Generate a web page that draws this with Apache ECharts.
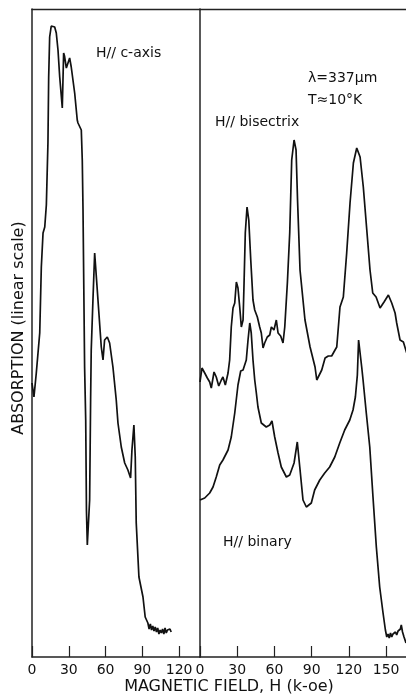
<!DOCTYPE html>
<html>
<head>
<meta charset="utf-8">
<script src="https://cdn.jsdelivr.net/npm/echarts@6/dist/echarts.min.js"></script>
<style>
    html, body { margin: 0; padding: 0; background: #fff; }
    #chart { width: 406px; height: 694px; }
</style>
</head>
<body>
<div id="chart"></div>
<script>
// 刻度
var ticksLeft = [0, 30, 60, 90, 120];
var ticksRight = [0, 30, 60, 90, 120, 150];

// H // c-axis (左图)
var cAxisField = [0, 1.6, 3.5, 6.3, 7.6, 9.0, 10.4, 11.7, 13.0, 13.6, 14.4, 15.7, 18.5, 19.8, 21.2, 22.6, 24.7, 25.8, 26.5, 28.0, 30.7, 32.0, 34.8, 36.9, 37.5, 38.9, 40.2, 41.0, 41.6, 42.9, 43.8, 44.4, 45.1, 46.0, 47.0, 47.8, 48.3, 49.7, 51.1, 53.8, 56.5, 57.9, 59.2, 61.4, 63.3, 66.0, 68.7, 70.1, 72.8, 75.6, 78.2, 80.4, 81.5, 83.1, 84.2, 85.0, 87.2, 90.5, 92.3, 94.5, 95.5, 96.5, 97.5, 98.5, 99.5, 100.5, 101.5, 102.5, 103.5, 104.5, 105.5, 106.5, 107.5, 108.5, 109.5, 110.5, 111.5, 112.5, 113.5];
var cAxisAbs = [274, 260, 284, 324, 390, 424, 430, 452, 514, 580, 620, 631, 630, 624, 607, 580, 549, 604, 601, 589, 599, 590, 564, 537, 534, 535, 527, 497, 447, 290, 237, 147, 112, 112, 157, 257, 307, 357, 404, 357, 310, 297, 317, 320, 314, 290, 257, 234, 210, 194, 187, 179, 207, 232, 200, 134, 80, 60, 40, 34, 28, 33, 27, 31, 26, 30, 25, 29, 23, 27, 24, 28, 23, 29, 24, 27, 25, 28, 25];

// H // bisectrix (右图上)
var bisectrixField = [0, 1.6, 3.8, 5.9, 7.8, 9.1, 11.3, 13.1, 15.1, 17.2, 18.5, 20.4, 22.6, 23.9, 25.2, 26.6, 28.0, 29.3, 30.6, 32.0, 33.3, 34.7, 35.5, 36.5, 37.9, 39.3, 40.9, 42.7, 44.1, 46.2, 48.1, 49.4, 50.8, 52.1, 54.2, 56.2, 57.5, 59.6, 61.5, 62.9, 65.0, 66.9, 68.3, 70.4, 72.3, 73.9, 75.8, 77.4, 78.6, 80.6, 84.6, 88.7, 92.7, 94.1, 98.1, 100.8, 103.4, 106.1, 108.8, 110.2, 112.8, 115.5, 118.2, 120.9, 123.6, 126.3, 129.0, 131.6, 134.4, 137.0, 139.2, 141.9, 145.1, 148.3, 151.8, 153.1, 154.5, 157.2, 158.5, 161.2, 163.9, 166.6];
var bisectrixAbs = [275, 289, 284, 279, 275, 269, 285, 280, 271, 277, 280, 272, 284, 297, 330, 349, 354, 375, 369, 350, 330, 337, 374, 424, 450, 437, 397, 357, 347, 340, 330, 324, 309, 314, 320, 322, 330, 327, 337, 324, 321, 314, 330, 374, 424, 497, 517, 507, 457, 387, 337, 310, 290, 277, 287, 299, 301, 301, 307, 310, 350, 360, 404, 454, 494, 509, 500, 470, 427, 387, 364, 360, 349, 355, 362, 364, 354, 344, 334, 317, 315, 304];

// H // binary (右图下)
var binaryField = [0, 3.8, 7.8, 10.5, 13.1, 15.9, 18.5, 22.6, 25.2, 28.0, 30.6, 32.8, 34.7, 36.0, 37.3, 38.7, 40.1, 41.3, 42.7, 44.1, 45.4, 46.7, 49.4, 53.4, 56.2, 58.0, 60.2, 62.9, 65.5, 69.6, 72.3, 75.8, 78.4, 80.4, 83.0, 85.7, 89.7, 92.4, 96.5, 100.5, 104.5, 108.6, 112.6, 116.6, 120.7, 123.3, 125.2, 126.8, 127.8, 130.3, 131.4, 134.0, 136.8, 139.4, 142.1, 144.8, 147.5, 149.4, 150.5, 151.5, 152.5, 153.5, 154.5, 155.5, 156.5, 157.5, 158.5, 159.6, 160.5, 161.5, 162.2, 163.2, 164.4, 166.0];
var binaryAbs = [157, 159, 164, 170, 180, 192, 197, 207, 220, 244, 272, 286, 287, 289, 297, 317, 334, 324, 297, 277, 264, 250, 234, 230, 232, 236, 220, 204, 190, 180, 182, 194, 215, 190, 157, 150, 154, 167, 177, 184, 190, 200, 214, 227, 237, 247, 260, 282, 317, 290, 277, 244, 210, 160, 110, 70, 44, 27, 20, 23, 19, 24, 20, 23, 21, 25, 22, 26, 25, 28, 32, 25, 20, 14];

var INK = '#111';
var FONT = 'DejaVu Sans';

let toPairs = (xs, ys) => xs.map((x, i) => [x, ys[i]]);

let bottomAxis = (grid, max, ticks) => ({
    gridIndex: grid,
    type: 'value',
    position: 'bottom',
    min: 0,
    max: max,
    axisLine: { show: true, lineStyle: { color: '#222', width: 1.5 } },
    axisTick: { show: true, inside: true, length: 11, customValues: ticks, lineStyle: { color: '#222', width: 1.2 } },
    axisLabel: { show: true, customValues: ticks, margin: 6, color: INK, fontFamily: FONT, fontSize: 14 },
    splitLine: { show: false }
});

// 上边框
let topAxis = (grid, max) => ({
    gridIndex: grid,
    type: 'value',
    position: 'top',
    min: 0,
    max: max,
    axisLine: { show: true, lineStyle: { color: '#222', width: 1.3 } },
    axisTick: { show: false },
    axisLabel: { show: false },
    splitLine: { show: false }
});

let sideAxis = (grid) => ({
    gridIndex: grid,
    type: 'value',
    min: 0,
    max: 648,
    axisLine: { show: true, lineStyle: { color: '#222', width: 1.5 } },
    axisTick: { show: false },
    axisLabel: { show: false },
    splitLine: { show: false }
});

let curve = (xi, yi, data) => ({
    type: 'line',
    xAxisIndex: xi,
    yAxisIndex: yi,
    data: data,
    showSymbol: false,
    smooth: false,
    clip: true,
    lineStyle: { color: INK, width: 1.7 },
    z: 3
});

let label = (text, x, y, extra) => ({
    type: 'text',
    x: x,
    y: y,
    style: Object.assign({ text: text, fill: INK, font: '14px "' + FONT + '"', textVerticalAlign: 'middle' }, extra || {})
});

let chart = echarts.init(document.getElementById('chart'), null, { renderer: 'canvas' });

let option = {
    backgroundColor: '#fff',
    animation: false,
    grid: [
        { left: 32, top: 9, width: 168, height: 648 },
        { left: 200, top: 9, width: 206, height: 648 }
    ],
    xAxis: [
        bottomAxis(0, 137, ticksLeft),
        bottomAxis(1, 166, ticksRight),
        topAxis(0, 137),
        topAxis(1, 166)
    ],
    yAxis: [sideAxis(0), sideAxis(1)],
    series: [
        curve(0, 0, toPairs(cAxisField, cAxisAbs)),
        curve(1, 1, toPairs(bisectrixField, bisectrixAbs)),
        curve(1, 1, toPairs(binaryField, binaryAbs))
    ],
    graphic: [
        label('H// c-axis', 96, 53),
        label('λ=337μm', 308, 78),
        label('T≈10°K', 308, 100),
        label('H// bisectrix', 215, 122),
        label('H// binary', 223, 542),
        label('MAGNETIC FIELD, H (k-oe)', 229, 687, { textAlign: 'center', font: '16px "' + FONT + '"' }),
        {
            type: 'text',
            x: 19,
            y: 328,
            rotation: Math.PI / 2,
            style: { text: 'ABSORPTION (linear scale)', fill: INK, font: '16px "' + FONT + '"', textAlign: 'center', textVerticalAlign: 'middle' }
        }
    ]
};

chart.setOption(option);
</script>
</body>
</html>
